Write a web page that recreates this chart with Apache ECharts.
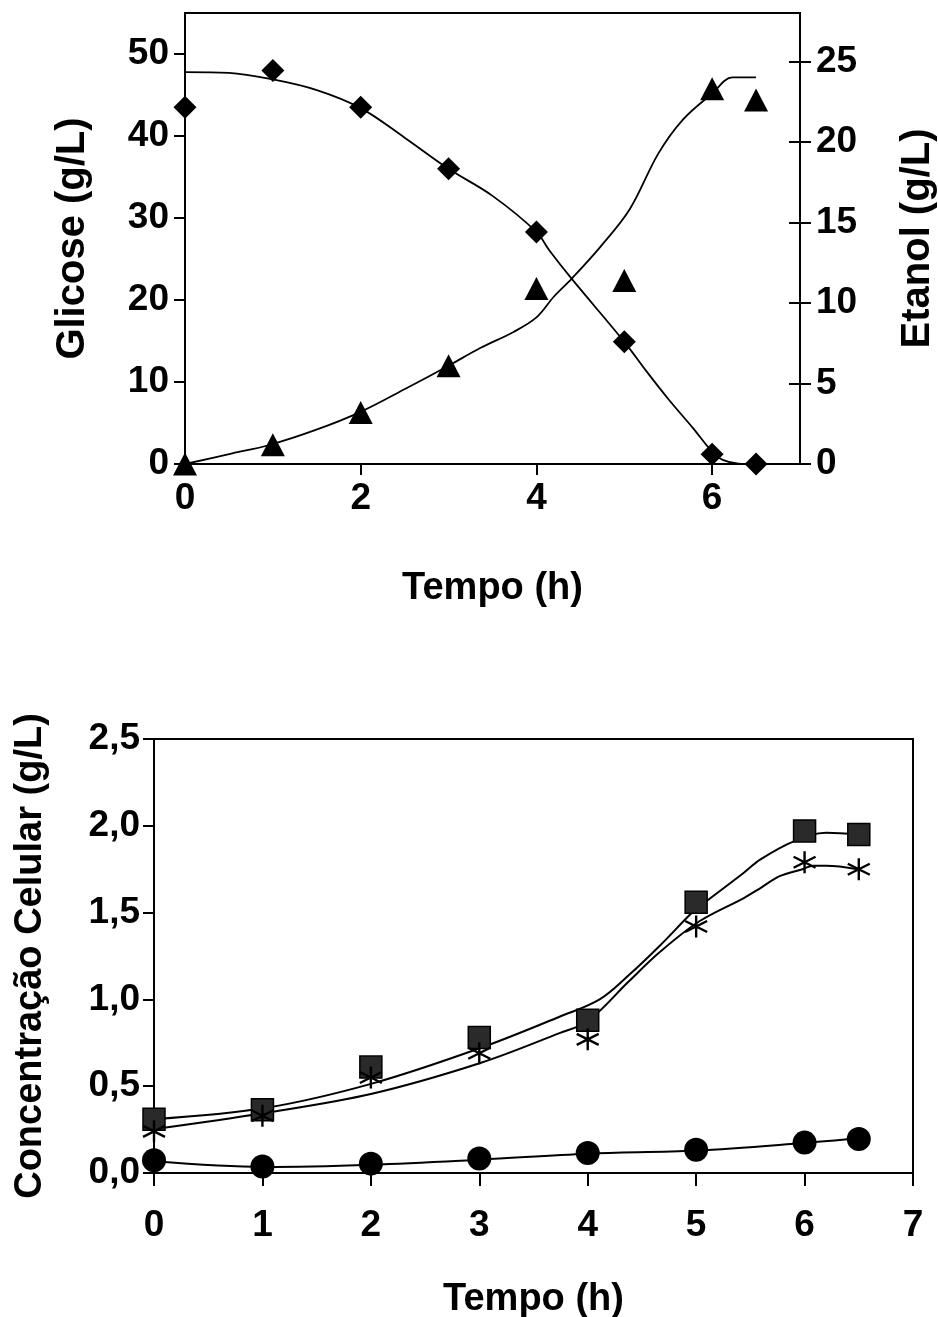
<!DOCTYPE html>
<html>
<head>
<meta charset="utf-8">
<script src="https://cdn.jsdelivr.net/npm/echarts@6/dist/echarts.min.js"></script>
<style>
html,body{margin:0;padding:0;background:#fff;}
#chart{width:938px;height:1317px;}
</style>
</head>
<body>
<div id="chart"></div>
<script>
// ---- Top chart: glucose & ethanol ----
var tempo = [0, 1, 2, 3, 4, 5, 6, 6.5];
var glicose = [43.5, 48, 43.5, 36, 28.3, 14.9, 1.2, 0];
var etanol = [0, 1.2, 3.2, 6.1, 10.9, 11.4, 23.3, 22.6];

var glicoseAjusteT = [0, 0.5, 1, 1.5, 2, 2.5, 3, 3.5, 4, 4.15, 4.4, 5, 5.26, 5.51, 5.78, 6, 6.12, 6.3, 6.5];
var glicoseAjuste = [47.8, 47.7, 46.9, 45.6, 43.4, 39.8, 36, 32.7, 28.3, 26, 22.6, 14.9, 11.2, 7.8, 4.4, 1.5, 0.5, 0.05, 0];

var etanolAjusteT = [0, 0.54, 0.96, 1.48, 2, 2.52, 3, 3.36, 3.74, 4, 4.2, 4.4, 4.73, 5.06, 5.39, 5.67, 6, 6.23, 6.5];
var etanolAjuste = [0, 0.66, 1.18, 2.1, 3.24, 4.7, 6.1, 7.2, 8.2, 9.1, 10.4, 11.5, 13.5, 15.8, 19.3, 21.4, 23, 24, 24];

var glicoseTicks = [0, 10, 20, 30, 40, 50];
var etanolTicks = [0, 5, 10, 15, 20, 25];
var tempoTicksTop = [0, 2, 4, 6];

// ---- Bottom chart: cell concentration ----
var celTotal = [0.31, 0.365, 0.61, 0.78, 0.88, 1.56, 1.97, 1.95];
var celViavel = [0.24, 0.33, 0.55, 0.69, 0.77, 1.42, 1.79, 1.75];
var celMorta = [0.073, 0.038, 0.054, 0.083, 0.115, 0.134, 0.175, 0.196];

var totalAjusteT = [0, 1.02, 2.01, 3.01, 3.74, 4.11, 4.38, 4.66, 4.93, 5.0, 5.44, 5.59, 5.9, 6.2, 6.5];
var totalAjuste = [0.31, 0.374, 0.515, 0.72, 0.9, 1.0, 1.14, 1.306, 1.48, 1.52, 1.73, 1.805, 1.91, 1.96, 1.95];

var viavelAjusteT = [0, 1.02, 2.01, 3.01, 3.74, 4.0, 4.38, 4.66, 5.03, 5.44, 5.59, 5.77, 5.98, 6.08, 6.2, 6.49];
var viavelAjuste = [0.253, 0.346, 0.457, 0.634, 0.806, 0.874, 1.104, 1.27, 1.45, 1.584, 1.64, 1.71, 1.75, 1.77, 1.77, 1.75];

var mortaAjusteT = [0, 1.02, 2.01, 3.01, 4.0, 5.0, 6.0, 6.5];
var mortaAjuste = [0.067, 0.035, 0.048, 0.077, 0.111, 0.129, 0.173, 0.2];

function pairs(xs, ys) { return xs.map(function (x, i) { return [x, ys[i]]; }); }

var FONT = 'Liberation Sans';
function txt(size) { return { color: '#000', fontFamily: FONT, fontWeight: 'bold', fontSize: size }; }
var FS = 37;
var axisLine = { show: true, lineStyle: { color: '#000', width: 2 } };
var tickOut = { show: true, inside: false, length: 11, lineStyle: { color: '#000', width: 2 } };
var asterisk = 'path://M0,-10L0,10M-8.66,-5L8.66,5M-8.66,5L8.66,-5';

var chart = echarts.init(document.getElementById('chart'), null, { renderer: 'canvas' });
chart.setOption({
  animation: false,
  backgroundColor: '#fff',
  grid: [
    { left: 185, top: 13, width: 615, height: 451, outerBoundsMode: 'none', containLabel: false, show: true, borderColor: '#000', borderWidth: 2, backgroundColor: 'transparent' },
    { left: 154, top: 739, width: 759, height: 434, outerBoundsMode: 'none', containLabel: false, show: true, borderColor: '#000', borderWidth: 2, backgroundColor: 'transparent' }
  ],
  xAxis: [
    {
      gridIndex: 0, type: 'value', min: 0, max: 7, interval: 1,
      name: 'Tempo (h)', nameLocation: 'middle', nameGap: 106, nameTextStyle: txt(38),
      axisLine: axisLine,
      axisTick: Object.assign({}, tickOut, { customValues: tempoTicksTop }),
      axisLabel: Object.assign({}, txt(FS), { margin: 16, customValues: tempoTicksTop }),
      splitLine: { show: false }
    },
    {
      gridIndex: 1, type: 'value', min: 0, max: 7, interval: 1,
      name: 'Tempo (h)', nameLocation: 'middle', nameGap: 108, nameTextStyle: txt(38),
      axisLine: axisLine,
      axisTick: Object.assign({}, tickOut, { length: 13 }),
      axisLabel: Object.assign({}, txt(FS), { margin: 34 }),
      splitLine: { show: false }
    }
  ],
  yAxis: [
    {
      gridIndex: 0, type: 'value', min: 0, max: 55, interval: 5, position: 'left',
      name: 'Glicose (g/L)', nameLocation: 'middle', nameGap: 92, nameRotate: 90, nameTextStyle: txt(40),
      axisLine: axisLine,
      axisTick: Object.assign({}, tickOut, { customValues: glicoseTicks }),
      axisLabel: Object.assign({}, txt(FS), { margin: 16, customValues: glicoseTicks }),
      splitLine: { show: false }
    },
    {
      gridIndex: 0, type: 'value', min: 0, max: 28, interval: 1, position: 'right',
      name: 'Etanol (g/L)', nameLocation: 'middle', nameGap: 98, nameRotate: 90, nameTextStyle: txt(40),
      axisLine: axisLine,
      axisTick: Object.assign({}, tickOut, { customValues: etanolTicks }),
      axisLabel: Object.assign({}, txt(FS), { margin: 16, customValues: etanolTicks }),
      splitLine: { show: false }
    },
    {
      gridIndex: 0, type: 'value', min: 0, max: 28, interval: 1, position: 'right',
      axisLine: { show: false },
      axisTick: { show: true, inside: true, length: 11, lineStyle: { color: '#000', width: 2 }, customValues: etanolTicks },
      axisLabel: { show: false },
      splitLine: { show: false }
    },
    {
      gridIndex: 1, type: 'value', min: 0, max: 2.5, interval: 0.5,
      axisLine: axisLine,
      axisTick: tickOut,
      axisLabel: Object.assign({}, txt(FS), { margin: 14, formatter: function (v) { return v.toFixed(1).replace('.', ','); } }),
      name: 'Concentração Celular (g/L)', nameLocation: 'middle', nameGap: 104, nameRotate: 90, nameTextStyle: txt(38),
      splitLine: { show: false }
    }
  ],
  series: [
    { type: 'line', xAxisIndex: 0, yAxisIndex: 0, data: pairs(glicoseAjusteT, glicoseAjuste), smooth: 0.35, showSymbol: false, lineStyle: { color: '#000', width: 1.8 }, z: 2 },
    { type: 'line', xAxisIndex: 0, yAxisIndex: 1, data: pairs(etanolAjusteT, etanolAjuste), smooth: 0.35, showSymbol: false, lineStyle: { color: '#000', width: 1.8 }, z: 2 },
    { type: 'scatter', xAxisIndex: 0, yAxisIndex: 0, data: pairs(tempo, glicose), symbol: 'diamond', symbolSize: 23, itemStyle: { color: '#000', opacity: 1 }, z: 3 },
    { type: 'scatter', xAxisIndex: 0, yAxisIndex: 1, data: pairs(tempo, etanol), symbol: 'triangle', symbolSize: [24, 23], itemStyle: { color: '#000', opacity: 1 }, z: 3 },

    { type: 'line', xAxisIndex: 1, yAxisIndex: 3, data: pairs(totalAjusteT, totalAjuste), smooth: 0.35, showSymbol: false, lineStyle: { color: '#000', width: 2 }, z: 2 },
    { type: 'line', xAxisIndex: 1, yAxisIndex: 3, data: pairs(viavelAjusteT, viavelAjuste), smooth: 0.35, showSymbol: false, lineStyle: { color: '#000', width: 2 }, z: 2 },
    { type: 'line', xAxisIndex: 1, yAxisIndex: 3, data: pairs(mortaAjusteT, mortaAjuste), smooth: 0.35, showSymbol: false, lineStyle: { color: '#000', width: 2 }, z: 2 },
    { type: 'scatter', xAxisIndex: 1, yAxisIndex: 3, data: pairs(tempo, celTotal), symbol: 'rect', symbolSize: 22, itemStyle: { color: '#2a2a2a', borderColor: '#000', borderWidth: 1.5, opacity: 1 }, z: 3 },
    { type: 'scatter', xAxisIndex: 1, yAxisIndex: 3, data: pairs(tempo, celViavel), symbol: asterisk, symbolSize: [22, 22], itemStyle: { color: 'none', borderColor: '#000', borderWidth: 2.4, opacity: 1 }, z: 4 },
    { type: 'scatter', xAxisIndex: 1, yAxisIndex: 3, data: pairs(tempo, celMorta), symbol: 'circle', symbolSize: 24, itemStyle: { color: '#000', opacity: 1 }, z: 3 }
  ]
});
</script>
</body>
</html>
